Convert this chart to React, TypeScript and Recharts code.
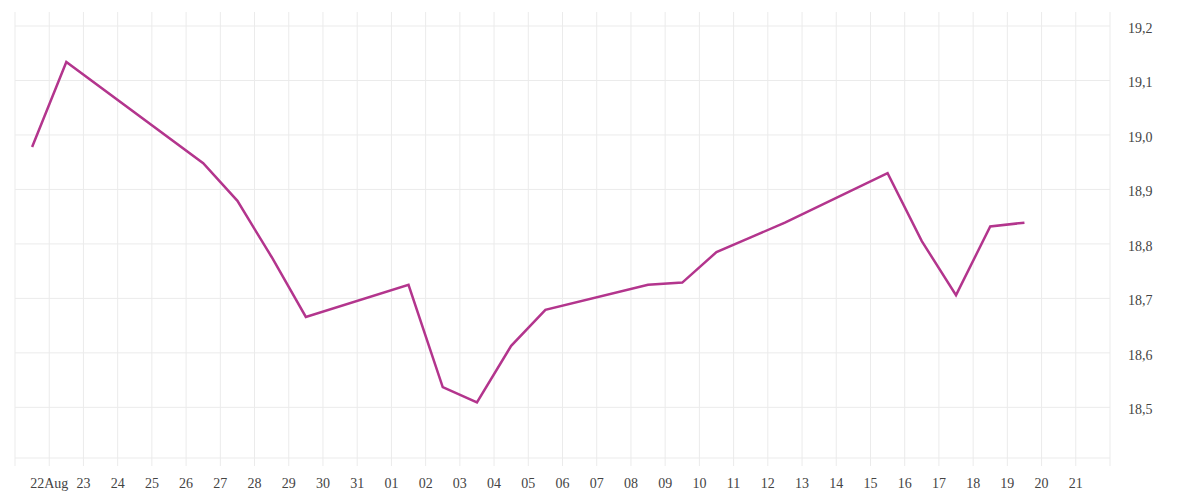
import React from "react";
import { LineChart, Line, XAxis, YAxis, CartesianGrid } from "recharts";

const dates = [
  "2025-08-21", "2025-08-22", "2025-08-26", "2025-08-27", "2025-08-28", "2025-08-29",
  "2025-09-01", "2025-09-02", "2025-09-03", "2025-09-04", "2025-09-05",
  "2025-09-08", "2025-09-09", "2025-09-10", "2025-09-11", "2025-09-12",
  "2025-09-15", "2025-09-16", "2025-09-17", "2025-09-18", "2025-09-19",
];
const values = [
  18.978, 19.134, 18.948, 18.879, 18.776, 18.666,
  18.725, 18.537, 18.509, 18.613, 18.679,
  18.725, 18.729, 18.785, 18.812, 18.839,
  18.93, 18.805, 18.706, 18.832, 18.839,
];
const xTickLabels = [
  "", "22Aug", "23", "24", "25", "26", "27", "28", "29", "30", "31",
  "01", "02", "03", "04", "05", "06", "07", "08", "09", "10",
  "11", "12", "13", "14", "15", "16", "17", "18", "19", "20", "21", "",
];
const yTicks = [18.5, 18.6, 18.7, 18.8, 18.9, 19.0, 19.1, 19.2];
const yDomain: [number, number] = [18.407, 19.2257];

const START = Date.UTC(2025, 7, 21);
const DAY = 86400000;

const data = dates.map((d, i) => {
  const [y, m, dd] = d.split("-").map(Number);
  return { t: (Date.UTC(y, m - 1, dd) - START) / DAY + 0.5, v: values[i] };
});
const xTicks = xTickLabels.map((_, i) => i);

const FONT = "'Liberation Serif', 'Times New Roman', serif";
const GRID = "#ebebeb";

const XTick = (props: any) => {
  const { x, y, payload } = props;
  const label = xTickLabels[payload.value] ?? "";
  return (
    <text x={x} y={y} dy={22} textAnchor="middle" style={{ fontFamily: FONT }} fontSize={14} fill="#444">
      {label}
    </text>
  );
};

const YTick = (props: any) => {
  const { x, y, payload } = props;
  return (
    <text x={x} y={y} dy={7} textAnchor="start" style={{ fontFamily: FONT }} fontSize={14} fill="#444">
      {payload.value.toFixed(1).replace(".", ",")}
    </text>
  );
};

const hCoords = (args: any) => {
  const off = args?.offset ?? {};
  const top = off.top ?? 4;
  const h = off.height ?? 446;
  const [lo, hi] = yDomain;
  return yTicks.map((t) => top + (h * (hi - t)) / (hi - lo));
};

export default function App() {
  return (
    <div style={{ fontFamily: FONT }}>
      <LineChart
        width={1184}
        height={484}
        data={data}
        margin={{ top: 4, right: 0, bottom: 4, left: 7 }}
      >
        <CartesianGrid stroke={GRID} strokeWidth={1} horizontalCoordinatesGenerator={hCoords} />
        <XAxis
          dataKey="t"
          type="number"
          domain={[0, 32]}
          ticks={xTicks}
          interval={0}
          height={30}
          axisLine={{ stroke: GRID }}
          tickLine={{ stroke: GRID }}
          tickSize={8}
          tickMargin={0}
          tick={<XTick />}
        />
        <YAxis
          orientation="right"
          type="number"
          domain={yDomain}
          ticks={yTicks}
          allowDataOverflow
          width={82}
          axisLine={false}
          tickLine={false}
          tickSize={18}
          tickMargin={0}
          tick={<YTick />}
        />
        <Line
          type="linear"
          dataKey="v"
          stroke="#b3358d"
          strokeWidth={2.5}
          dot={false}
          isAnimationActive={false}
        />
      </LineChart>
    </div>
  );
}
